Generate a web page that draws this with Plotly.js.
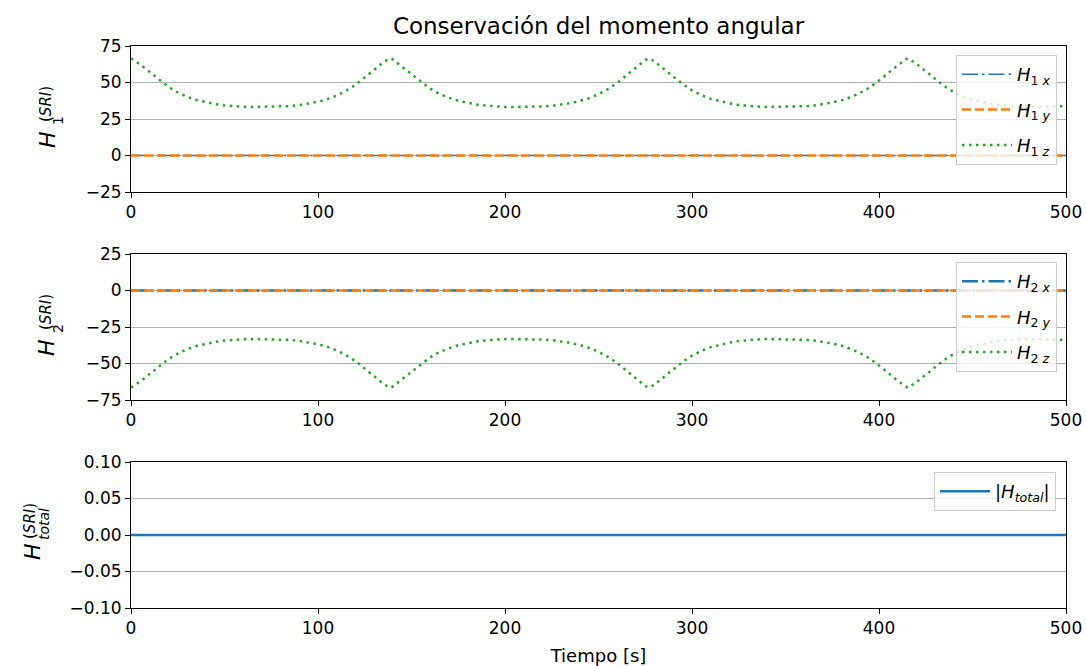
<!DOCTYPE html>
<html>
<head>
<meta charset="utf-8">
<script src="https://cdn.plot.ly/plotly-3.0.1.min.js"></script>
<style>html,body{margin:0;padding:0;background:#fff;}#chart{width:1086px;height:666px;}</style>
</head>
<body>
<div id="chart"></div>
<script>
// ---- data ----
const tZero = [0, 500];
const h1x = [0, 0];
const h1y = [0, 0];
const h2x = [0, 0];
const h2y = [0, 0];
const hTotal = [0, 0];

const tTime = [0,5,10,15,20,25,30,35,40,45,50,55,60,65,70,75,80,85,90,95,100,105,110,115,120,125,130,135,138.5,
  140,145,150,155,160,165,170,175,180,185,190,195,200,205,210,215,220,225,230,235,240,245,250,255,260,265,270,275,277,
  280,285,290,295,300,305,310,315,320,325,330,335,340,345,350,355,360,365,370,375,380,385,390,395,400,405,410,415,415.5,
  420,425,430,435,440,445,450,455,460,465,470,475,480,485,490,495,500];

const h1z = [66.5,62.3,57.2,51.8,47.0,43.2,40.2,38.0,36.4,35.2,34.3,33.7,33.4,33.3,33.3,33.3,33.5,33.8,34.5,35.6,36.8,38.6,41.0,44.3,48.4,53.5,58.7,63.9,66.5,
  65.8,60.7,55.6,50.3,45.8,42.2,39.5,37.5,36.0,34.9,34.1,33.6,33.3,33.3,33.3,33.3,33.6,34.0,34.8,35.9,37.3,39.3,41.9,45.4,49.8,55.1,60.2,65.4,66.5,
  64.4,59.2,54.0,48.9,44.6,41.3,38.8,37.0,35.7,34.6,33.9,33.5,33.3,33.3,33.3,33.4,33.7,34.2,35.1,36.3,37.8,40.0,42.9,46.6,51.3,56.7,61.8,66.3,66.5,
  62.8,57.7,52.4,47.4,43.5,40.5,38.2,36.5,35.3,34.4,33.8,33.4,33.3,33.3,33.3,33.5,33.8];

const h2z = [-66.5,-62.3,-57.2,-51.8,-47.0,-43.2,-40.2,-38.0,-36.4,-35.2,-34.3,-33.7,-33.4,-33.3,-33.3,-33.3,-33.5,-33.8,-34.5,-35.6,-36.8,-38.6,-41.0,-44.3,-48.4,-53.5,-58.7,-63.9,-66.5,
  -65.8,-60.7,-55.6,-50.3,-45.8,-42.2,-39.5,-37.5,-36.0,-34.9,-34.1,-33.6,-33.3,-33.3,-33.3,-33.3,-33.6,-34.0,-34.8,-35.9,-37.3,-39.3,-41.9,-45.4,-49.8,-55.1,-60.2,-65.4,-66.5,
  -64.4,-59.2,-54.0,-48.9,-44.6,-41.3,-38.8,-37.0,-35.7,-34.6,-33.9,-33.5,-33.3,-33.3,-33.3,-33.4,-33.7,-34.2,-35.1,-36.3,-37.8,-40.0,-42.9,-46.6,-51.3,-56.7,-61.8,-66.3,-66.5,
  -62.8,-57.7,-52.4,-47.4,-43.5,-40.5,-38.2,-36.5,-35.3,-34.4,-33.8,-33.4,-33.3,-33.3,-33.3,-33.5,-33.8];

const xTicks = [0, 100, 200, 300, 400, 500];
const y1Ticks = [-25, 0, 25, 50, 75];
const y2Ticks = [-75, -50, -25, 0, 25];
const y3Ticks = [-0.10, -0.05, 0.00, 0.05, 0.10];

const names1 = ['<i>H</i><sub>1 <i>x</i></sub>', '<i>H</i><sub>1 <i>y</i></sub>', '<i>H</i><sub>1 <i>z</i></sub>'];
const names2 = ['<i>H</i><sub>2 <i>x</i></sub>', '<i>H</i><sub>2 <i>y</i></sub>', '<i>H</i><sub>2 <i>z</i></sub>'];
const nameTotal = '|<i>H</i><sub><i>total</i></sub>|';

// ---- styling ----
const FONT = 'DejaVu Sans, Liberation Sans, sans-serif';
const BLUE = '#1f77b4', ORANGE = '#ff7f0e', GREEN = '#2ca02c';
const DASHDOT = '16px,4px,2.5px,4px';
const DASH = '9px,4px';
const DOT = '2.5px,4.5px';

const traces = [
  {x: tZero, y: h1x, name: names1[0], xaxis: 'x', yaxis: 'y', legend: 'legend', legendgroup: 'a',
   mode: 'lines', line: {color: BLUE, width: 1.5, dash: DASHDOT}},
  {x: tZero, y: h1y, name: names1[1], xaxis: 'x', yaxis: 'y', legend: 'legend', legendgroup: 'b',
   mode: 'lines', line: {color: ORANGE, width: 2.5, dash: DASH}},
  {x: tTime, y: h1z, name: names1[2], xaxis: 'x', yaxis: 'y', legend: 'legend', legendgroup: 'c',
   mode: 'lines', line: {color: GREEN, width: 2.5, dash: DOT}},
  {x: tZero, y: h2x, name: names2[0], xaxis: 'x2', yaxis: 'y2', legend: 'legend2', legendgroup: 'd',
   mode: 'lines', line: {color: BLUE, width: 2.5, dash: DASHDOT}},
  {x: tZero, y: h2y, name: names2[1], xaxis: 'x2', yaxis: 'y2', legend: 'legend2', legendgroup: 'e',
   mode: 'lines', line: {color: ORANGE, width: 2.5, dash: DASH}},
  {x: tTime, y: h2z, name: names2[2], xaxis: 'x2', yaxis: 'y2', legend: 'legend2', legendgroup: 'f',
   mode: 'lines', line: {color: GREEN, width: 2.5, dash: DOT}},
  {x: tZero, y: hTotal, name: nameTotal, xaxis: 'x3', yaxis: 'y3', legend: 'legend3', legendgroup: 'g',
   mode: 'lines', line: {color: BLUE, width: 2.5}}
];

const W = 1086, H = 666, ML = 131, MR = 20, MT = 46, MB = 58;
const PW = W - ML - MR, PH = H - MT - MB;
const px = v => (v - ML) / PW;
const py = v => (H - MB - v) / PH;

const axisBase = {
  showline: true, linecolor: 'black', linewidth: 1, mirror: true,
  ticks: 'outside', ticklen: 5, tickwidth: 1, tickcolor: 'black',
  tickfont: {family: FONT, size: 17, color: 'black'}, zeroline: false
};
const xBase = Object.assign({}, axisBase, {range: [0, 500], tickvals: xTicks, showgrid: false});
const yBase = Object.assign({}, axisBase, {showgrid: true, gridcolor: '#b0b0b0', gridwidth: 1});

const legBase = {
  bgcolor: 'rgba(255,255,255,0.8)', bordercolor: '#cccccc', borderwidth: 1,
  font: {family: FONT, size: 18, color: 'black'}, xanchor: 'right', yanchor: 'top',
  tracegroupgap: 9, itemwidth: 50, xref: 'paper', yref: 'paper'
};

function ylab(hx, hy, sub, subx, suby, supx, supy) {
  const f = {family: FONT, color: 'black'};
  return [
    {text: '<i>H</i>', x: px(hx), y: py(hy), xref: 'paper', yref: 'paper', showarrow: false,
     textangle: -90, xanchor: 'center', yanchor: 'middle', font: Object.assign({size: 22}, f)},
    {text: sub, x: px(subx), y: py(suby), xref: 'paper', yref: 'paper', showarrow: false,
     textangle: -90, xanchor: 'center', yanchor: 'middle', font: Object.assign({size: 14}, f)},
    {text: '(<i>SRI</i>)', x: px(supx), y: py(supy), xref: 'paper', yref: 'paper', showarrow: false,
     textangle: -90, xanchor: 'center', yanchor: 'middle', font: Object.assign({size: 15}, f)}
  ];
}

const layout = {
  width: W, height: H,
  margin: {l: ML, r: MR, t: MT, b: MB},
  paper_bgcolor: 'white', plot_bgcolor: 'white',
  font: {family: FONT, color: 'black'},
  title: {text: 'Conservación del momento angular', font: {family: FONT, size: 23, color: 'black'},
          x: 0.5, xref: 'paper', y: 1 - 26 / H, yref: 'container', yanchor: 'middle'},
  xaxis: Object.assign({}, xBase, {anchor: 'y'}),
  yaxis: Object.assign({}, yBase, {domain: [py(192), 1], range: [-25, 75], tickvals: y1Ticks, anchor: 'x'}),
  xaxis2: Object.assign({}, xBase, {anchor: 'y2'}),
  yaxis2: Object.assign({}, yBase, {domain: [py(400), py(254)], range: [-75, 25], tickvals: y2Ticks, anchor: 'x2'}),
  xaxis3: Object.assign({}, xBase, {anchor: 'y3',
    title: {text: 'Tiempo [s]', font: {family: FONT, size: 18, color: 'black'}, standoff: 12}}),
  yaxis3: Object.assign({}, yBase, {domain: [0, py(462)], range: [-0.1, 0.1], tickvals: y3Ticks,
    tickformat: '.2f', anchor: 'x3'}),
  legend: Object.assign({}, legBase, {x: px(1057), y: py(55)}),
  legend2: Object.assign({}, legBase, {x: px(1057), y: py(262)}),
  legend3: Object.assign({}, legBase, {x: px(1056), y: py(472)}),
  showlegend: true,
  annotations: [].concat(
    ylab(47, 140, '1', 58, 121, 46, 104),
    ylab(47, 348, '2', 58, 329, 46, 312),
    ylab(32, 552, '<i>total</i>', 44, 524, 30, 521)
  )
};

Plotly.newPlot('chart', traces, layout, {displayModeBar: false, staticPlot: true});
</script>
</body>
</html>
